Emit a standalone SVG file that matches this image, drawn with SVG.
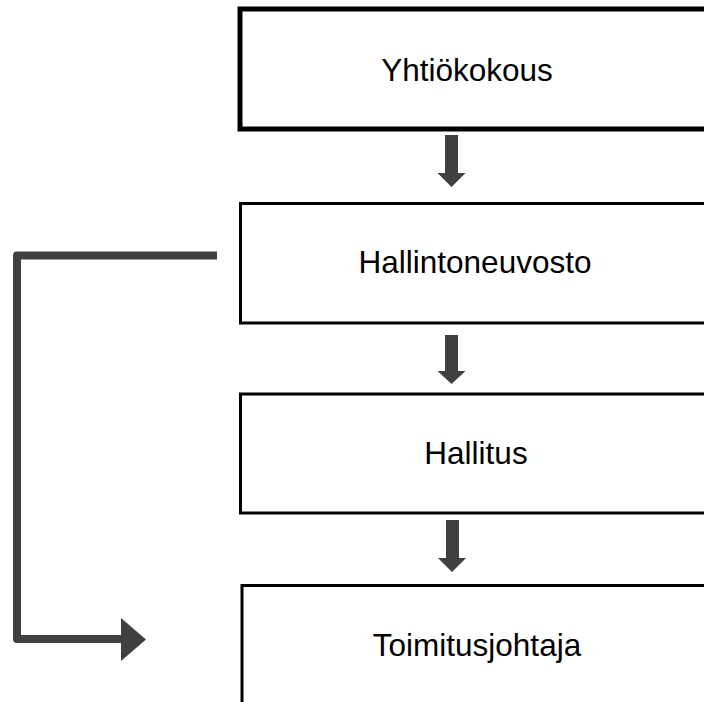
<svg xmlns="http://www.w3.org/2000/svg" width="704" height="702" viewBox="0 0 704 702">
<style>
.box{fill:#ffffff;stroke:#000000;stroke-width:3}
.lbl{font-family:"Liberation Sans",Arial,sans-serif;font-size:31.5px;fill:#000000;text-anchor:middle}
.arr{fill:#404040;stroke:none}
.line{fill:none;stroke:#404040;stroke-width:8;stroke-linejoin:round}
</style>
<rect width="704" height="702" fill="#ffffff"/>
<g id="connectors">
<polygon class="arr" points="445,135 458,135 458,173 465.5,173 451.5,187 437.5,173 445,173"/>
<polygon class="arr" points="445,335 458,335 458,371 465.5,371 451.5,384 437.5,371 445,371"/>
<polygon class="arr" points="446,520 459,520 459,558 466,558 452,572 438,558 446,558"/>
<path class="line" d="M217,255.5 H17 V639 H122"/>
<polygon class="arr" points="121,618 146,639.5 121,661"/>
</g>
<g id="yhtiokokous">
<rect class="box" x="240" y="9" width="480" height="120" style="stroke-width:5"/>
<text class="lbl" x="467" y="80.5">Yhtiökokous</text>
</g>
<g id="hallintoneuvosto">
<rect class="box" x="240.5" y="203.5" width="480" height="119.5"/>
<text class="lbl" x="475" y="273">Hallintoneuvosto</text>
</g>
<g id="hallitus">
<rect class="box" x="240.5" y="394" width="480" height="119"/>
<text class="lbl" x="476" y="464">Hallitus</text>
</g>
<g id="toimitusjohtaja">
<rect class="box" x="242" y="585.5" width="480" height="140"/>
<text class="lbl" x="477" y="656">Toimitusjohtaja</text>
</g>
</svg>
